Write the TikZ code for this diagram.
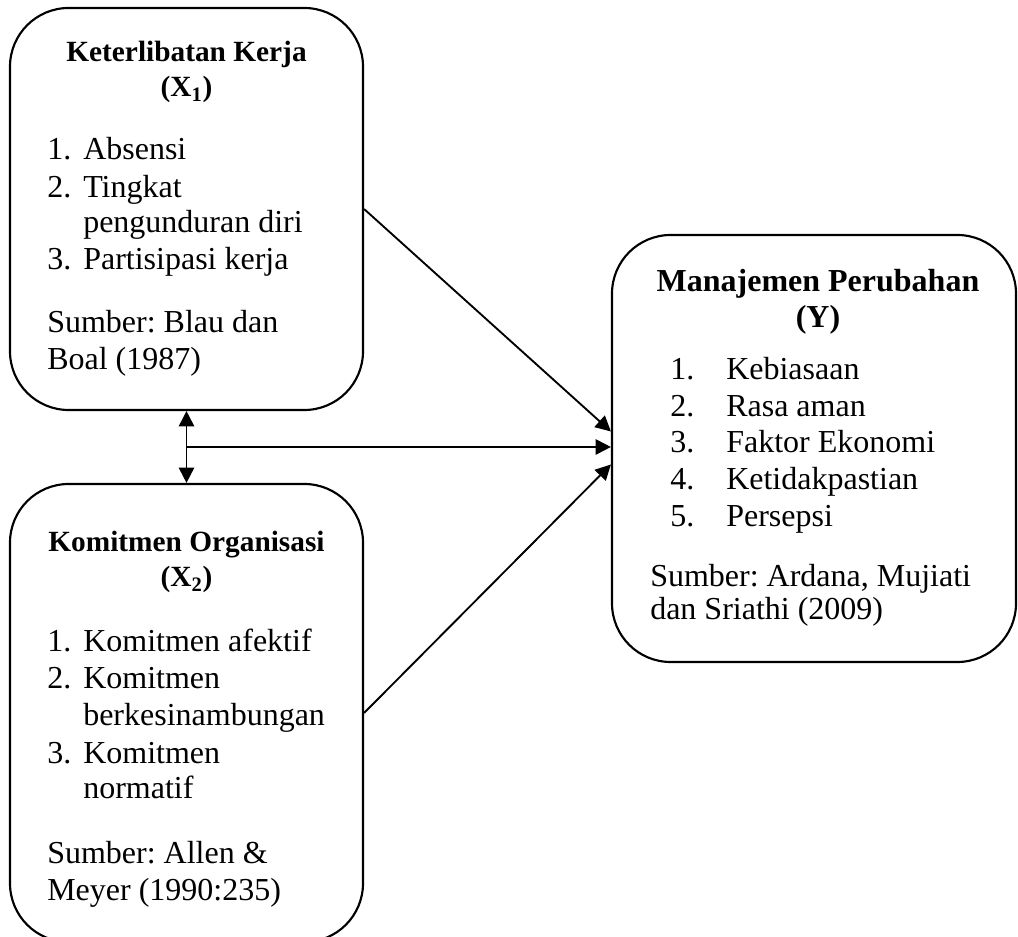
\documentclass[tikz,border=0pt]{standalone}
\usepackage{fontspec}
\setmainfont{Liberation Serif}
\usetikzlibrary{arrows.meta,calc}
\frenchspacing

\tikzset{
  varbox/.style={draw, line width=1.6pt, rounded corners=44pt, inner sep=0pt},
  ujung/.tip={Triangle[length=11.5pt,width=11.5pt]},
  conn/.style={line width=1.4pt, -ujung},
  judul/.style={anchor=base, inner sep=0pt, font=\fontsize{22}{25}\selectfont\bfseries},
  judulY/.style={anchor=base, inner sep=0pt, font=\fontsize{24}{27.6}\selectfont\bfseries},
  isi/.style={anchor=base west, inner sep=0pt, font=\fontsize{24}{27.6}\selectfont},
}

\begin{document}
\begin{tikzpicture}[x=0.75pt,y=0.75pt,yscale=-1,xscale=1]
\useasboundingbox (0,0) rectangle (1018,937);

%Shape: Rounded Rect [X1]
\node[varbox, minimum width=264.75pt, minimum height=301.5pt] (boxX1) at (186.5,209) {};
%Shape: Rounded Rect [X2]
\node[varbox, minimum width=264.75pt, minimum height=343.5pt] (boxX2) at (186.5,713) {};
%Shape: Rounded Rect [Y]
\node[varbox, minimum width=303pt, minimum height=320.25pt] (boxY) at (814,448.5) {};

% Text Node
\node[judul] (judulX1a) at (186.5,62) {Keterlibatan Kerja};
% Text Node
\node[judul] (judulX1b) at (186.5,97) {(X\textsubscript{1})};
% Text Node
\node[isi] (x1a) at (47,160) {\makebox[27pt][l]{1.}Absensi};
% Text Node
\node[isi] (x1b) at (47,198) {\makebox[27pt][l]{2.}Tingkat};
% Text Node
\node[isi] (x1c) at (83,233) {pengunduran diri};
% Text Node
\node[isi] (x1d) at (47,270) {\makebox[27pt][l]{3.}Partisipasi kerja};
% Text Node
\node[isi] (sumberX1a) at (47,333) {Sumber: Blau dan};
% Text Node
\node[isi] (sumberX1b) at (47,370) {Boal (1987)};

% Text Node
\node[judul] (judulX2a) at (186.5,552) {Komitmen Organisasi};
% Text Node
\node[judul] (judulX2b) at (186.5,587) {(X\textsubscript{2})};
% Text Node
\node[isi] (x2a) at (47,652) {\makebox[27pt][l]{1.}Komitmen afektif};
% Text Node
\node[isi] (x2b) at (47,688) {\makebox[27pt][l]{2.}Komitmen};
% Text Node
\node[isi] (x2c) at (83,725) {berkesinambungan};
% Text Node
\node[isi] (x2d) at (47,763) {\makebox[27pt][l]{3.}Komitmen};
% Text Node
\node[isi] (x2e) at (83,798) {normatif};
% Text Node
\node[isi] (sumberX2a) at (47,863) {Sumber: Allen \&};
% Text Node
\node[isi] (sumberX2b) at (47,900) {Meyer (1990:235)};

% Text Node
\node[judulY] (judulYa) at (818,292) {Manajemen Perubahan};
% Text Node
\node[judulY] (judulYb) at (818,328) {(Y)};
% Text Node
\node[isi] (ya) at (670,380) {\makebox[42pt][l]{1.}Kebiasaan};
% Text Node
\node[isi] (yb) at (670,417) {\makebox[42pt][l]{2.}Rasa aman};
% Text Node
\node[isi] (yc) at (670,453) {\makebox[42pt][l]{3.}Faktor Ekonomi};
% Text Node
\node[isi] (yd) at (670,490) {\makebox[42pt][l]{4.}Ketidakpastian};
% Text Node
\node[isi] (ye) at (670,527) {\makebox[42pt][l]{5.}Persepsi};
% Text Node
\node[isi] (sumberYa) at (650,587) {Sumber: Ardana, Mujiati};
% Text Node
\node[isi] (sumberYb) at (650,620) {dan Sriathi (2009)};

% Connection
\coordinate (tengah) at ($(boxX1.south)!0.5!(boxX2.north)$);
\draw[conn, ujung-ujung] (boxX1.south) -- (boxX2.north);
% Connection
\draw[conn] (tengah) -- (tengah -| boxY.west);
% Connection
\draw[conn] (boxX1.east) -- ($(boxY.west)+(0,-17)$);
% Connection
\draw[conn] (boxX2.east) -- ($(boxY.west)+(0,16)$);

\end{tikzpicture}
\end{document}
